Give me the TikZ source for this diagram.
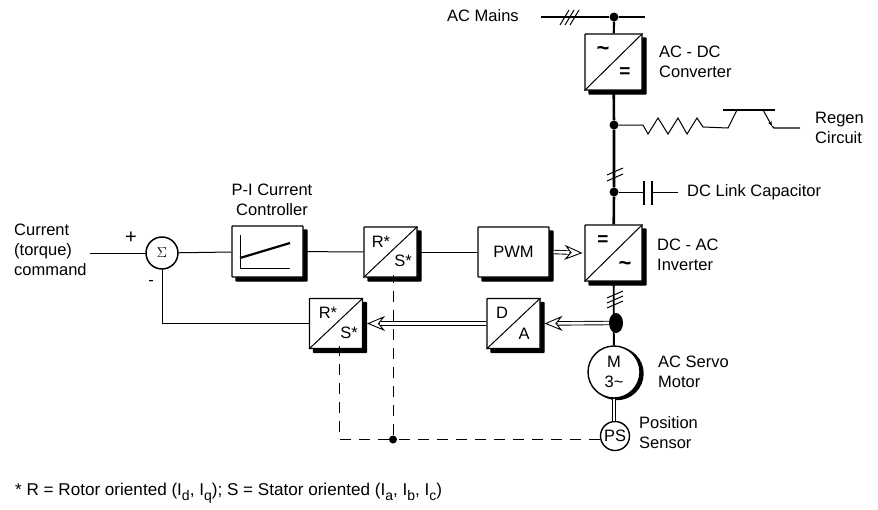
\documentclass[tikz,border=0pt]{standalone}
\usepackage{fontspec}
\setmainfont{Liberation Sans}
\usepackage{tikz}
\usetikzlibrary{arrows.meta,calc,positioning,shadows,shapes.geometric}
\newcommand{\txtsize}{\fontsize{16.5}{20}\selectfont}
\newcommand{\subI}[1]{I\raisebox{-4.5pt}{\fontsize{14}{14}\selectfont #1}}

\begin{document}
\begin{tikzpicture}[x=1pt, y=-1pt,
    every node/.style={font=\txtsize, inner sep=0pt},
    block/.style={draw, fill=white, line width=1.1pt, rounded corners=0.5pt, minimum width=#1,
      copy shadow={shadow xshift=4pt, shadow yshift=-4pt, fill=black, draw=black}},
    label/.style={anchor=west, align=left},
    junction/.style={circle, fill=black, minimum size=9pt},
    acdc/.style={font=\bfseries\fontsize{22}{22}\selectfont},
    eqsign/.style={font=\bfseries\fontsize{19}{19}\selectfont},
    sig/.style={line width=1pt},
    bus/.style={line width=2.6pt},
    feedback/.style={line width=1pt, dash pattern=on 11pt off 8pt},
    rail/.style={line width=0.9pt, double, double distance=2.6pt, shorten >=13pt},
    hollowtip/.style={line width=0.9pt,
      -{Stealth[fill=white, length=18pt, width=15pt, inset=6pt, line width=0.9pt]}}]
  \useasboundingbox (0,0) rectangle (878,509);
  % power path, top to bottom
  \node[junction] (dotmains) at (614,17) {};
  \node[block=57pt, minimum height=56pt] (conv) at (613.5,62) {};
  \node[junction] (dotregen) at (614,125) {};
  \node[junction] (dotcap) at (614,192) {};
  \node[block=57pt, minimum height=56pt] (inv) at (613.5,253) {};
  \node[ellipse, fill=black, minimum width=14pt, minimum height=20pt] (dotmotor) at (616,323) {};
  \node[circle, draw, fill=white, line width=1.4pt, minimum size=52pt,
    copy shadow={shadow xshift=3pt, shadow yshift=-1.5pt, fill=black, draw=black}] (motor) at (614,372) {};
  \node[circle, draw, fill=white, line width=1.4pt, minimum size=29pt] (possens) at (615,436) {PS};
  % control path
  \node[circle, draw, line width=1.5pt, minimum size=32pt, font=\fontsize{14}{14}\selectfont] (sum) at (162,253) {$\Sigma$};
  \node[block=71pt, minimum height=51pt] (picont) at (267.5,251.5) {};
  \node[block=53pt, minimum height=50pt] (rsup) at (390.5,252) {};
  \node[block=71pt, minimum height=50pt] (pwm) at (513.5,252) {PWM};
  \node[block=53pt, minimum height=50pt] (rsdown) at (336,323.5) {};
  \node[block=53pt, minimum height=50pt] (dac) at (513.5,323.5) {};
  % diagonals of the converter blocks
  \foreach \b in {conv,inv,rsup,rsdown,dac}{
    \draw[sig] (\b.south west) -- (\b.north east);
  }
  % letters in the corners
  \node[acdc] at (603,51) {\textasciitilde};
  \node[eqsign] at (625,73) {=};
  \node[eqsign] at (603,241) {=};
  \node[acdc] at (625,266) {\textasciitilde};
  \node at (381,242) {R*};
  \node at (403,261) {S*};
  \node at (328,313) {R*};
  \node at (349,333) {S*};
  \node at (502,313) {D};
  \node at (524,334) {A};
  \node at (614,372) [align=center] {M\\3\textasciitilde};
  % P-I curve
  \draw[line width=0.8pt] (240,235) -- (240,268) -- (290,268);
  \draw[line width=2.2pt] (240,258) -- (290,243);
  % bus lines
  \coordinate (mainsl) at (541,17);
  \coordinate (mainsr) at (645,17);
  \draw[line width=2.2pt] (mainsl) -- (dotmains) -- (mainsr);
  \draw[line width=2.2pt] (dotmains) -- (conv);
  \draw[bus] (conv) -- (dotregen) -- (dotcap) -- (inv);
  \draw[line width=1.8pt] (inv) -- (motor);
  \foreach \x in {560,565,570}{
    \draw[sig] (\x,25) -- ++(9,-15);
  }
  \foreach \y in {172,178}{
    \draw[sig] (607,\y+3) -- ++(16,-7);
  }
  \foreach \y in {295,300,305}{
    \draw[sig] (607,\y+3) -- ++(16,-7);
  }
  % regen branch
  \coordinate (regenend) at (800,128);
  \draw[line width=1pt] (dotregen) -- (643,125) -- (648,134) -- (658,118) -- (668,134) -- (678,118)
    -- (687,134) -- (697,118) -- (703,127) -- (728,128) -- (737,110);
  \draw[line width=1.2pt] (723,110) -- (775,110);
  \draw[line width=1pt, -{Stealth[length=5pt, width=4pt]}] (763,110) -- (772,126);
  \draw[line width=1.3pt] (772,126) -- (774,128) -- (regenend);
  % DC link capacitor
  \coordinate (capend) at (678,192);
  \draw[sig] (dotcap) -- (644,192);
  \draw[line width=1.2pt] (644,181) -- (644,205);
  \draw[line width=1.2pt] (652,181) -- (652,205);
  \draw[sig] (652,192) -- (capend);
  % signal connectors
  \coordinate (cmdin) at (90,253);
  \draw[sig] (cmdin) -- (sum);
  \draw[sig] (sum) -- (picont);
  \draw[sig] (picont) -- (rsup);
  \draw[sig] (rsup) -- (pwm);
  \draw[sig] (sum) |- (rsdown);
  % double arrows
  \coordinate (tipinv) at ([xshift=-2pt]inv.west);
  \coordinate (tipdac) at ([xshift=4pt]dac.east);
  \coordinate (tiprs) at ([xshift=4pt]rsdown.east);
  \coordinate (tailpwm) at ([xshift=4pt]pwm.east);
  \foreach \a/\b in {tailpwm/tipinv, dotmotor.west/tipdac, dac.west/tiprs}{
    \draw[hollowtip] (\a) -- (\b);
    \draw[rail] (\a) -- (\b);
  }
  % motor to sensor
  \draw[line width=0.9pt, double, double distance=2.4pt] (motor) -- (motor |- possens.north);
  % dashed feedback
  \node[junction, minimum size=8pt] (dotpos) at (393,439.5) {};
  \coordinate (corner) at (339,439.5);
  \draw[feedback] (possens.west |- dotpos) -- (dotpos) -- (corner) -- ([yshift=3pt]rsdown.south -| corner);
  \draw[feedback] (dotpos) -- ([yshift=3pt]rsup.south -| dotpos);
  % labels
  \node[label] at (447,16) {AC Mains};
  \node[label] at (659,62) {AC - DC\\Converter};
  \node[label] at (815,128) {Regen\\Circuit};
  \node[label] at (687,192) {DC Link Capacitor};
  \node[align=center] at (272,199.5) {P-I Current\\Controller};
  \node[label] at (14,250) {Current\\(torque)\\command};
  \node[font=\fontsize{20}{20}\selectfont] at (131,238) {+};
  \node at (151,283) {-};
  \node[label] at (657,255) {DC - AC\\Inverter};
  \node[label] at (658,372) {AC Servo\\Motor};
  \node[label] at (639,433) {Position\\Sensor};
  \node[label, font=\fontsize{17.1}{18}\selectfont] at (15,493) {* R = Rotor oriented (\subI{d}, \subI{q}); S = Stator oriented (\subI{a}, \subI{b}, \subI{c})};
\end{tikzpicture}
\end{document}
